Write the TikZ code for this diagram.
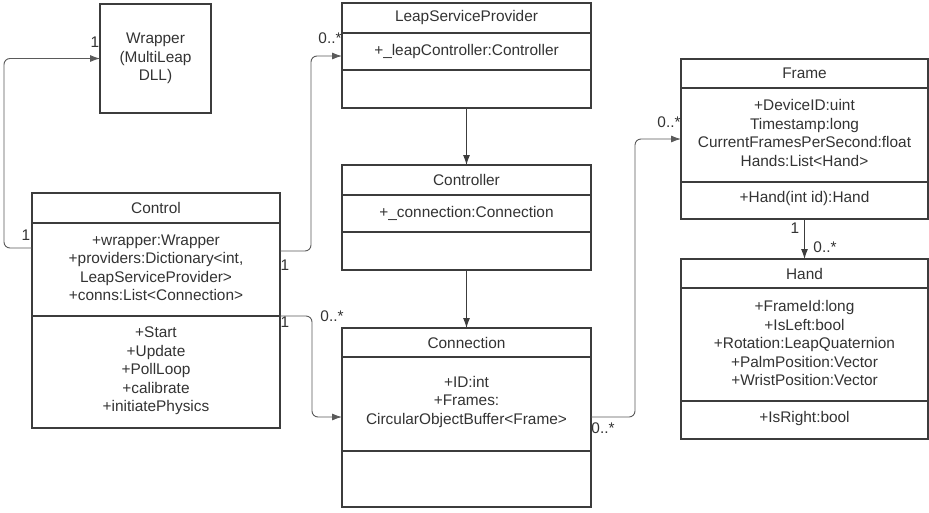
\documentclass[tikz,border=0pt]{standalone}
\usepackage{fontspec}
\setmainfont{Liberation Sans}
\usetikzlibrary{arrows.meta,calc}
\definecolor{boxc}{HTML}{3C3C3C}
\definecolor{connc}{HTML}{5A5A5A}
\definecolor{txtc}{HTML}{333333}
\tikzset{
  classbox/.style={draw=boxc, line width=1.3pt, rectangle, anchor=north west, inner sep=0pt, outer sep=0pt},
  sepline/.style={draw=boxc, line width=1.3pt},
  txt/.style={text=txtc, font={\fontsize{15.4}{18.5}\selectfont}, align=center, inner sep=0pt},
  lbl/.style={text=txtc, font={\fontsize{15.4}{18.5}\selectfont}, inner sep=0pt},
  conn/.style={draw=connc, line width=0.9pt, rounded corners=6pt, -{Latex[length=10pt,width=7pt]}},
  assoc/.style={draw=boxc, line width=1pt, -{Latex[length=10pt,width=7pt]}}
}
\begin{document}
\begin{tikzpicture}[x=1pt,y=-1pt]
\useasboundingbox[fill=white] (0,0) rectangle (929,512);

% Wrapper
\node[classbox, minimum width=111, minimum height=109] (wrapper) at (100,4) {};
\node[txt] (wrapper-t) at (wrapper.center) {Wrapper\\(MultiLeap\\DLL)};

% Control
\node[classbox, minimum width=248, minimum height=235] (control) at (32,193) {};
\draw[sepline] ([yshift=-30]control.north west) -- ([yshift=-30]control.north east);
\draw[sepline] ([yshift=-123]control.north west) -- ([yshift=-123]control.north east);
\node[txt] (control-t) at (156,208) {Control};
\node[txt] (control-a) at (156,268) {+wrapper:Wrapper\\+providers:Dictionary<int,\\LeapServiceProvider>\\+conns:List<Connection>};
\node[txt] (control-m) at (156,371) {+Start\\+Update\\+PollLoop\\+calibrate\\+initiatePhysics};

% LeapServiceProvider
\node[classbox, minimum width=249, minimum height=105] (lsp) at (342,3) {};
\draw[sepline] ([yshift=-30]lsp.north west) -- ([yshift=-30]lsp.north east);
\draw[sepline] ([yshift=-67]lsp.north west) -- ([yshift=-67]lsp.north east);
\node[txt] (lsp-t) at (466.5,18) {LeapServiceProvider};
\node[txt] (lsp-a) at (466.5,51.5) {+\_leapController:Controller};

% Controller
\node[classbox, minimum width=249, minimum height=105] (controller) at (342,165) {};
\draw[sepline] ([yshift=-30]controller.north west) -- ([yshift=-30]controller.north east);
\draw[sepline] ([yshift=-67]controller.north west) -- ([yshift=-67]controller.north east);
\node[txt] (controller-t) at (466.5,180) {Controller};
\node[txt] (controller-a) at (466.5,213.5) {+\_connection:Connection};

% Connection
\node[classbox, minimum width=249, minimum height=179] (connection) at (342,328) {};
\draw[sepline] ([yshift=-29]connection.north west) -- ([yshift=-29]connection.north east);
\draw[sepline] ([yshift=-123]connection.north west) -- ([yshift=-123]connection.north east);
\node[txt] (connection-t) at (466.5,342.5) {Connection};
\node[txt] (connection-a) at (466.5,402) {+ID:int\\+Frames:\\CircularObjectBuffer<Frame>};

% Frame
\node[classbox, minimum width=247, minimum height=160] (frame) at (681,59) {};
\draw[sepline] ([yshift=-29]frame.north west) -- ([yshift=-29]frame.north east);
\draw[sepline] ([yshift=-123]frame.north west) -- ([yshift=-123]frame.north east);
\node[txt] (frame-t) at (804.5,73.5) {Frame};
\node[txt] (frame-a) at (804.5,133) {+DeviceID:uint\\Timestamp:long\\CurrentFramesPerSecond:float\\Hands:List<Hand>};
\node[txt] (frame-m) at (804.5,199) {+Hand(int id):Hand};

% Hand
\node[classbox, minimum width=247, minimum height=180] (hand) at (681,259) {};
\draw[sepline] ([yshift=-29]hand.north west) -- ([yshift=-29]hand.north east);
\draw[sepline] ([yshift=-142]hand.north west) -- ([yshift=-142]hand.north east);
\node[txt] (hand-t) at (804.5,273.5) {Hand};
\node[txt] (hand-a) at (804.5,343) {+FrameId:long\\+IsLeft:bool\\+Rotation:LeapQuaternion\\+PalmPosition:Vector\\+WristPosition:Vector};
\node[txt] (hand-m) at (804.5,418.5) {+IsRight:bool};

% Connectors
\draw[conn] ([yshift=-55]control.north west) -- ++(-28,0) |- (wrapper.west);
\draw[conn] ([yshift=-58]control.north east) -- ++(31,0) |- ([yshift=-53]lsp.north west);
\draw[conn] ([yshift=-123]control.north east) -- ++(32,0) |- ([yshift=-89]connection.north west);
\draw[conn] ([yshift=-89]connection.north east) -- ++(44,0) |- ([yshift=-80]frame.north west);
\draw[assoc] (lsp.south) -- (controller.north);
\draw[assoc] (controller.south) -- (connection.north);
\draw[assoc] (frame.south) -- (hand.north);

% Multiplicities
\node[lbl] (m1) at (95,42) {1};
\node[lbl] (m2) at (26,235) {1};
\node[lbl] (m3) at (330,38) {0..*};
\node[lbl] (m4) at (285,265) {1};
\node[lbl] (m5) at (285,322) {1};
\node[lbl] (m6) at (332,316) {0..*};
\node[lbl] (m7) at (603,428) {0..*};
\node[lbl] (m8) at (669,122) {0..*};
\node[lbl] (m9) at (795,228) {1};
\node[lbl] (m10) at (825,247) {0..*};
\end{tikzpicture}
\end{document}
